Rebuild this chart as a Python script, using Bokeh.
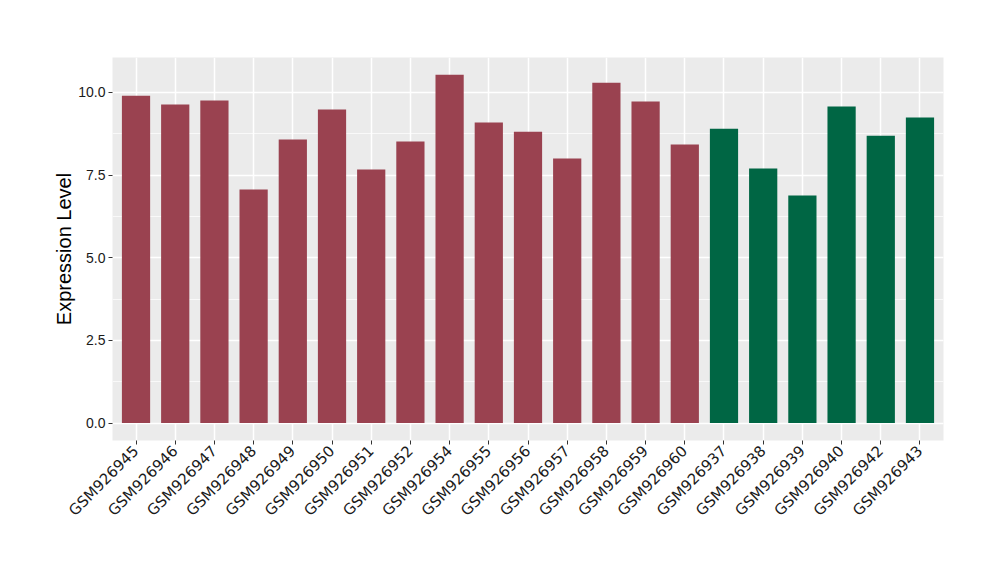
import math
from bokeh.plotting import figure
from bokeh.models import FactorRange, Range1d, SingleIntervalTicker, NumeralTickFormatter, ColumnDataSource
from bokeh.embed import file_html
from bokeh.resources import INLINE

samples = ["GSM926945", "GSM926946", "GSM926947", "GSM926948", "GSM926949", "GSM926950",
           "GSM926951", "GSM926952", "GSM926954", "GSM926955", "GSM926956", "GSM926957",
           "GSM926958", "GSM926959", "GSM926960", "GSM926937", "GSM926938", "GSM926939",
           "GSM926940", "GSM926942", "GSM926943"]
values = [9.90, 9.63, 9.75, 7.06, 8.57, 9.48, 7.67, 8.51, 10.53, 9.09, 8.81, 8.00,
          10.29, 9.72, 8.42, 8.90, 7.70, 6.88, 9.57, 8.69, 9.24]
groups = ["A"] * 15 + ["B"] * 6
group_colors = {"A": "#9A4250", "B": "#006644"}

colors = [group_colors[g] for g in groups]
src = ColumnDataSource(dict(x=samples, top=values, color=colors))

p = figure(width=1000, height=580, output_backend="svg", toolbar_location=None,
           x_range=FactorRange(*samples, range_padding=0.1, range_padding_units="absolute"),
           y_range=Range1d(-0.527, 11.053),
           min_border_left=112, min_border_right=57, min_border_top=57, min_border_bottom=140)

p.vbar(x="x", top="top", bottom=0, width=0.72, color="color", source=src, line_color=None)

p.background_fill_color = "#EBEBEB"
p.border_fill_color = "white"
p.outline_line_color = None

p.yaxis.ticker = SingleIntervalTicker(interval=2.5, num_minor_ticks=2)
p.yaxis.formatter = NumeralTickFormatter(format="0.0")

p.xgrid.grid_line_color = "white"
p.xgrid.grid_line_width = 1.5
p.ygrid.grid_line_color = "white"
p.ygrid.grid_line_width = 1.5
p.ygrid.minor_grid_line_color = "white"
p.ygrid.minor_grid_line_width = 0.7

for ax in (p.xaxis, p.yaxis):
    ax.axis_line_color = None
    ax.major_tick_line_color = "#333333"
    ax.major_tick_in = 0
    ax.major_tick_out = 4
    ax.minor_tick_line_color = None
    ax.major_label_text_color = "#1A1A1A"

p.yaxis.major_label_text_font = "Liberation Sans"
p.yaxis.major_label_text_font_size = "14px"
p.yaxis.major_label_standoff = 3
p.yaxis.axis_label = "Expression Level"
p.yaxis.axis_label_text_font = "Liberation Sans"
p.yaxis.axis_label_text_font_size = "20px"
p.yaxis.axis_label_text_font_style = "normal"
p.yaxis.axis_label_text_color = "black"
p.yaxis.axis_label_standoff = 0

p.xaxis.major_label_orientation = math.pi / 4
p.xaxis.major_label_text_font = "DejaVu Sans"
p.xaxis.major_label_text_font_size = "15px"
p.xaxis.major_label_standoff = 4

open("out.html", "w").write(file_html(p, INLINE))
